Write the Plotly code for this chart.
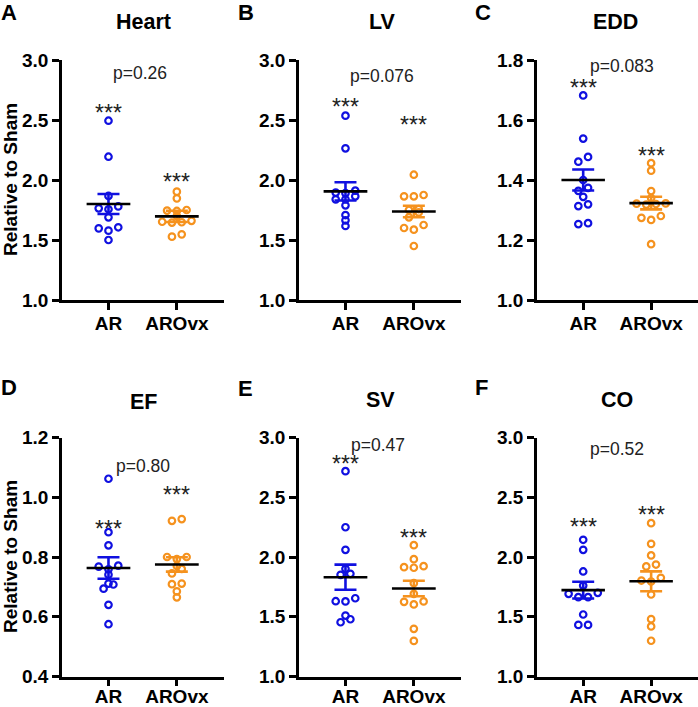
import plotly.graph_objects as go

# ---------------- data ----------------
groups = ["AR", "AROvx"]
panel_titles = ["Heart", "LV", "EDD", "EF", "SV", "CO"]
panel_letters = ["A", "B", "C", "D", "E", "F"]
p_labels = ["p=0.26", "p=0.076", "p=0.083", "p=0.80", "p=0.47", "p=0.52"]

heart_ar = [2.494, 2.194, 1.867, 1.78, 1.764, 1.756, 1.689, 1.606, 1.597, 1.578, 1.50]
heart_ovx = [1.903, 1.847, 1.75, 1.745, 1.742, 1.70, 1.66, 1.652, 1.648, 1.645, 1.547, 1.528]
lv_ar = [2.536, 2.264, 1.911, 1.895, 1.89, 1.864, 1.839, 1.839, 1.789, 1.708, 1.664, 1.617]
lv_ovx = [2.044, 1.875, 1.864, 1.864, 1.758, 1.75, 1.73, 1.689, 1.625, 1.60, 1.586, 1.45]
edd_ar = [1.682, 1.538, 1.477, 1.461, 1.40, 1.374, 1.364, 1.344, 1.319, 1.313, 1.256, 1.253]
edd_ovx = [1.456, 1.431, 1.363, 1.34, 1.322, 1.321, 1.32, 1.318, 1.28, 1.274, 1.267, 1.186]
ef_ar = [1.062, 0.883, 0.839, 0.771, 0.768, 0.759, 0.741, 0.711, 0.708, 0.694, 0.64, 0.575]
ef_ovx = [0.927, 0.921, 0.80, 0.80, 0.793, 0.77, 0.76, 0.745, 0.711, 0.709, 0.685, 0.665]
sv_ar = [2.718, 2.249, 2.06, 1.901, 1.859, 1.851, 1.655, 1.63, 1.628, 1.51, 1.479, 1.454]
sv_ovx = [2.099, 1.982, 1.923, 1.915, 1.91, 1.781, 1.692, 1.628, 1.625, 1.603, 1.399, 1.298]
co_ar = [2.144, 2.06, 1.879, 1.761, 1.70, 1.692, 1.664, 1.664, 1.519, 1.432, 1.432]
co_ovx = [2.283, 2.11, 2.013, 1.937, 1.921, 1.826, 1.803, 1.795, 1.686, 1.48, 1.419, 1.299]

# mean and SEM per panel: [AR, AROvx]
means = [[1.80, 1.697], [1.905, 1.738], [1.40, 1.323], [0.763, 0.775], [1.831, 1.736], [1.723, 1.797]]
sems = [[0.083, 0.047], [0.076, 0.048], [0.035, 0.021], [0.036, 0.024], [0.105, 0.065], [0.07, 0.083]]

y_ranges = [[1, 3], [1, 3], [1, 1.8], [0.4, 1.2], [1, 3], [1, 3]]
y_dticks = [0.5, 0.5, 0.2, 0.2, 0.5, 0.5]

series = [(heart_ar, heart_ovx), (lv_ar, lv_ovx), (edd_ar, edd_ovx),
          (ef_ar, ef_ovx), (sv_ar, sv_ovx), (co_ar, co_ovx)]

# ---------------- layout / style ----------------
W, H = 698, 707
FONT = "Liberation Sans, Arial, Helvetica, sans-serif"
COLORS = ["#1010E0", "#F5921E"]

col_px = [(62, 224), (299, 461), (537, 698)]
row_px = [(60, 300), (437.5, 676.5)]
row_label_standoff = [-3, -6]
x_range = [-0.68, 1.69]

# annotation positions (data coords)
pval_pos = [(0.456, 2.89), (0.54, 2.867), (0.57, 1.781), (0.5, 1.104), (0.48, 2.941), (0.5, 2.90)]
star_pos = [[2.6, 2.025], [2.65, 2.5], [1.723, 1.497], [0.912, 1.023], [2.816, 2.2], [2.289, 2.397]]
title_px = [(143, 22), (382, 22), (615, 22), (143, 402), (380, 400), (617, 400)]
letter_px = [(9, 13), (246, 13), (483, 13), (9, 387), (245, 388), (482, 387)]


def swarm(values, px_per_unit, row_tol=5.0, step=0.143):
    order = sorted(range(len(values)), key=lambda k: values[k])
    offs = [0.0] * len(values)
    rows, cur = [], []
    for k in order:
        if cur and (values[k] - values[cur[0]]) * px_per_unit > row_tol:
            rows.append(cur)
            cur = []
        cur.append(k)
    if cur:
        rows.append(cur)
    for row in rows:
        n = len(row)
        slots = [(j - (n - 1) / 2) * step for j in range(n)]
        slots.sort(key=lambda s: (abs(s), s))
        for k, s in zip(row, slots):
            offs[k] = s
    return offs


fig = go.Figure()
annotations = []
layout_axes = {}

for i in range(6):
    r, c = divmod(i, 3)
    ax = "" if i == 0 else str(i + 1)
    xname, yname = "x" + ax, "y" + ax
    x0, x1 = col_px[c]
    yt, yb = row_px[r]
    yr = y_ranges[i]
    px_per_unit = (yb - yt) / (yr[1] - yr[0])

    for g in range(2):
        vals = series[i][g]
        offs = swarm(vals, px_per_unit)
        fig.add_trace(go.Scatter(
            x=[g + o for o in offs], y=vals, mode="markers", xaxis=xname, yaxis=yname,
            marker=dict(symbol="circle-open", size=6.5, color=COLORS[g], line=dict(width=2.2, color=COLORS[g])),
            showlegend=False, hoverinfo="y", cliponaxis=False))
    for g in range(2):
        fig.add_trace(go.Scatter(
            x=[g], y=[means[i][g]], mode="markers", xaxis=xname, yaxis=yname,
            marker=dict(size=0.1, color=COLORS[g]),
            error_y=dict(type="data", array=[sems[i][g]], color=COLORS[g], thickness=2.6, width=11),
            showlegend=False, hoverinfo="skip"))
    for g in range(2):
        fig.add_trace(go.Scatter(
            x=[g - 0.32, g + 0.32], y=[means[i][g]] * 2, mode="lines", xaxis=xname, yaxis=yname,
            line=dict(color="black", width=2.6), showlegend=False, hoverinfo="skip"))

    layout_axes["xaxis" + ax] = dict(
        domain=[x0 / W, x1 / W], range=x_range, anchor=yname, automargin=False,
        tickmode="array", tickvals=[0, 1], ticktext=groups, ticklabelstandoff=row_label_standoff[r],
        showline=True, linecolor="black", linewidth=2.5, ticks="outside", ticklen=7,
        tickwidth=2.5, tickcolor="black", showgrid=False, zeroline=False,
        tickfont=dict(family=FONT, size=19, color="black", weight="bold"), fixedrange=True)
    layout_axes["yaxis" + ax] = dict(
        domain=[1 - yb / H, 1 - yt / H], range=yr, anchor=xname, automargin=False,
        tickmode="linear", tick0=yr[0], dtick=y_dticks[i], tickformat=".1f",
        showline=True, linecolor="black", linewidth=2.5, ticks="outside", ticklen=7,
        tickwidth=2.5, tickcolor="black", showgrid=False, zeroline=False,
        tickfont=dict(family=FONT, size=19, color="black", weight="bold"), fixedrange=True)

    # p-value
    annotations.append(dict(x=pval_pos[i][0], y=pval_pos[i][1], xref=xname, yref=yname,
                            text=p_labels[i], showarrow=False, xanchor="center", yanchor="middle",
                            font=dict(family=FONT, size=17.5, color="#222222")))
    # significance stars
    for g in range(2):
        annotations.append(dict(x=g, y=star_pos[i][g], xref=xname, yref=yname, text="***",
                                showarrow=False, xanchor="center", yanchor="middle", yshift=-5,
                                font=dict(family=FONT, size=23, color="#222222")))
    # title
    tx, ty = title_px[i]
    annotations.append(dict(x=tx / W, y=1 - ty / H, xref="paper", yref="paper", text=panel_titles[i],
                            showarrow=False, xanchor="center", yanchor="middle",
                            font=dict(family=FONT, size=21.5, color="black", weight="bold")))
    lx, ly = letter_px[i]
    annotations.append(dict(x=lx / W, y=1 - ly / H, xref="paper", yref="paper", text=panel_letters[i],
                            showarrow=False, xanchor="center", yanchor="middle",
                            font=dict(family=FONT, size=22, color="black", weight="bold")))

for yc in [180, 557]:
    annotations.append(dict(x=10 / W, y=1 - yc / H, xref="paper", yref="paper", text="Relative to Sham",
                            textangle=-90, showarrow=False, xanchor="center", yanchor="middle",
                            font=dict(family=FONT, size=19, color="black", weight="bold")))

fig.update_layout(
    width=W, height=H, margin=dict(l=0, r=0, t=0, b=0, autoexpand=False),
    paper_bgcolor="white", plot_bgcolor="white",
    annotations=annotations, showlegend=False, **layout_axes)

fig.write_html("out.html", config={"displayModeBar": False},
               post_script="document.body.style.margin='0';document.body.style.overflow='hidden';")
